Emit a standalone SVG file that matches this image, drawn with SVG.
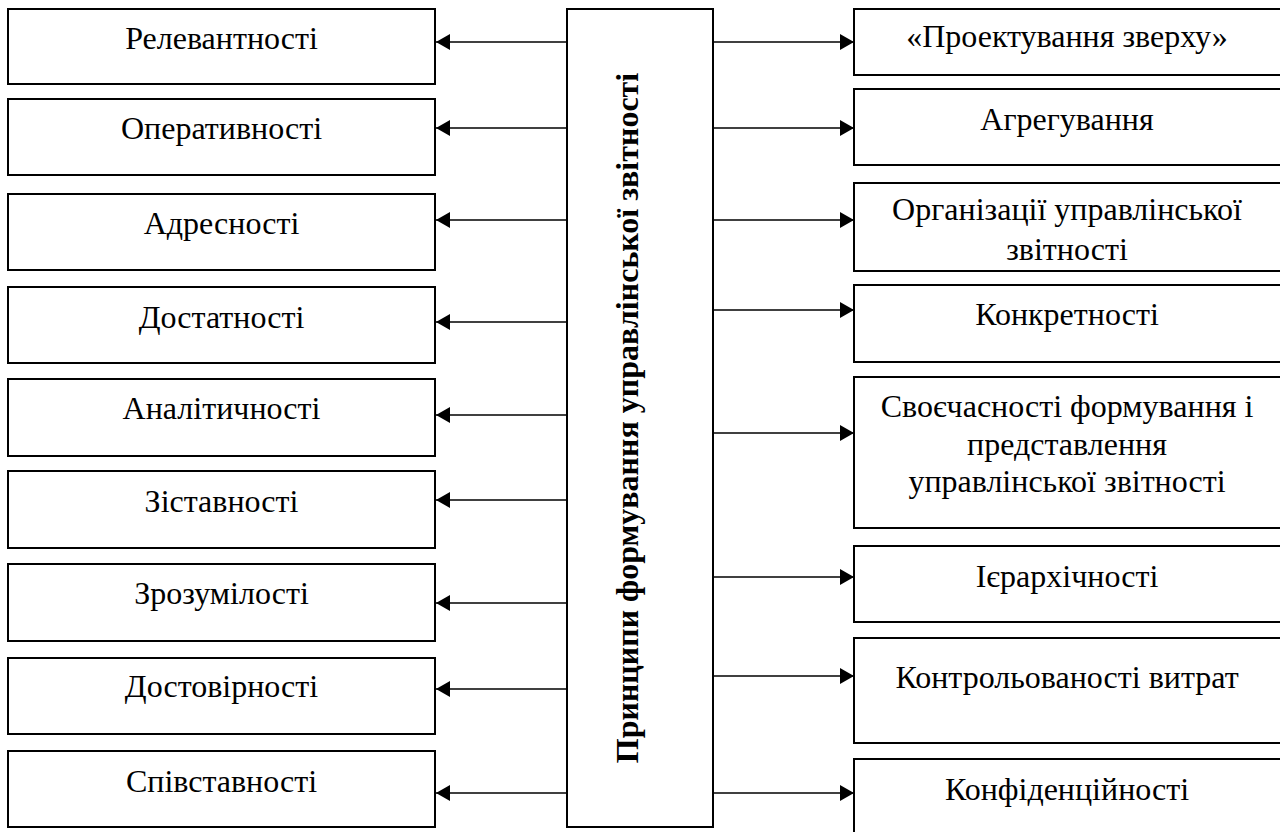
<svg xmlns="http://www.w3.org/2000/svg" width="1280" height="832" viewBox="0 0 1280 832">
<style>
.box{fill:#fff;stroke:#000;stroke-width:2}
.t{font-family:"Liberation Serif","DejaVu Serif",serif;font-size:32px;fill:#000;text-anchor:middle}
.tb{font-family:"Liberation Serif","DejaVu Serif",serif;font-size:32px;font-weight:bold;fill:#000;text-anchor:middle}
.c{stroke:#000;stroke-width:1.5;fill:none;marker-end:url(#ah)}
</style>
<defs>
<marker id="ah" viewBox="0 0 14 16" refX="14" refY="8" markerWidth="14" markerHeight="16" markerUnits="userSpaceOnUse" orient="auto">
<path d="M0,0 L14,8 L0,16 Z" fill="#000"/>
</marker>
</defs>
<rect width="1280" height="832" fill="#fff"/>
<g id="connectors">
<line class="c" x1="567" y1="42" x2="436" y2="42"/>
<line class="c" x1="567" y1="128" x2="436" y2="128"/>
<line class="c" x1="567" y1="220" x2="436" y2="220"/>
<line class="c" x1="567" y1="322" x2="436" y2="322"/>
<line class="c" x1="567" y1="415" x2="436" y2="415"/>
<line class="c" x1="567" y1="500" x2="436" y2="500"/>
<line class="c" x1="567" y1="603" x2="436" y2="603"/>
<line class="c" x1="567" y1="689" x2="436" y2="689"/>
<line class="c" x1="567" y1="793" x2="436" y2="793"/>
<line class="c" x1="713" y1="42" x2="854" y2="42"/>
<line class="c" x1="713" y1="128" x2="854" y2="128"/>
<line class="c" x1="713" y1="220" x2="854" y2="220"/>
<line class="c" x1="713" y1="310" x2="854" y2="310"/>
<line class="c" x1="713" y1="433" x2="854" y2="433"/>
<line class="c" x1="713" y1="577" x2="854" y2="577"/>
<line class="c" x1="713" y1="676" x2="854" y2="676"/>
<line class="c" x1="713" y1="793" x2="854" y2="793"/>
</g>
<g id="center">
<rect class="box" x="567" y="9" width="146" height="818"/>
<text class="tb" transform="translate(638,418) rotate(-90)">Принципи формування управлінської звітності</text>
</g>
<g id="l1"><rect class="box" x="8" y="9" width="427" height="75"/><text class="t" x="221.5" y="49">Релевантності</text></g>
<g id="l2"><rect class="box" x="8" y="99" width="427" height="76"/><text class="t" x="221.5" y="139">Оперативності</text></g>
<g id="l3"><rect class="box" x="8" y="194" width="427" height="76"/><text class="t" x="221.5" y="234">Адресності</text></g>
<g id="l4"><rect class="box" x="8" y="287" width="427" height="76"/><text class="t" x="221.5" y="328">Достатності</text></g>
<g id="l5"><rect class="box" x="8" y="379" width="427" height="77"/><text class="t" x="221.5" y="419">Аналітичності</text></g>
<g id="l6"><rect class="box" x="8" y="471" width="427" height="77"/><text class="t" x="221.5" y="512">Зіставності</text></g>
<g id="l7"><rect class="box" x="8" y="564" width="427" height="77"/><text class="t" x="221.5" y="604">Зрозумілості</text></g>
<g id="l8"><rect class="box" x="8" y="658" width="427" height="76"/><text class="t" x="221.5" y="697">Достовірності</text></g>
<g id="l9"><rect class="box" x="8" y="751" width="427" height="76"/><text class="t" x="221.5" y="792">Співставності</text></g>
<g id="r1"><rect class="box" x="854" y="9" width="440" height="66"/><text class="t" x="1067" y="47">«Проектування зверху»</text></g>
<g id="r2"><rect class="box" x="854" y="89" width="440" height="76"/><text class="t" x="1067" y="130">Агрегування</text></g>
<g id="r3"><rect class="box" x="854" y="183" width="440" height="88"/><text class="t" x="1067" y="220">Організації управлінської</text><text class="t" x="1067" y="260">звітності</text></g>
<g id="r4"><rect class="box" x="854" y="285" width="440" height="77"/><text class="t" x="1067" y="325">Конкретності</text></g>
<g id="r5"><rect class="box" x="854" y="377" width="440" height="151"/><text class="t" x="1067" y="417">Своєчасності формування і</text><text class="t" x="1067" y="455">представлення</text><text class="t" x="1067" y="492">управлінської звітності</text></g>
<g id="r6"><rect class="box" x="854" y="546" width="440" height="76"/><text class="t" x="1067" y="587">Ієрархічності</text></g>
<g id="r7"><rect class="box" x="854" y="638" width="440" height="105"/><text class="t" x="1067" y="688">Контрольованості витрат</text></g>
<g id="r8"><rect class="box" x="854" y="759" width="440" height="90"/><text class="t" x="1067" y="800">Конфіденційності</text></g>
</svg>
